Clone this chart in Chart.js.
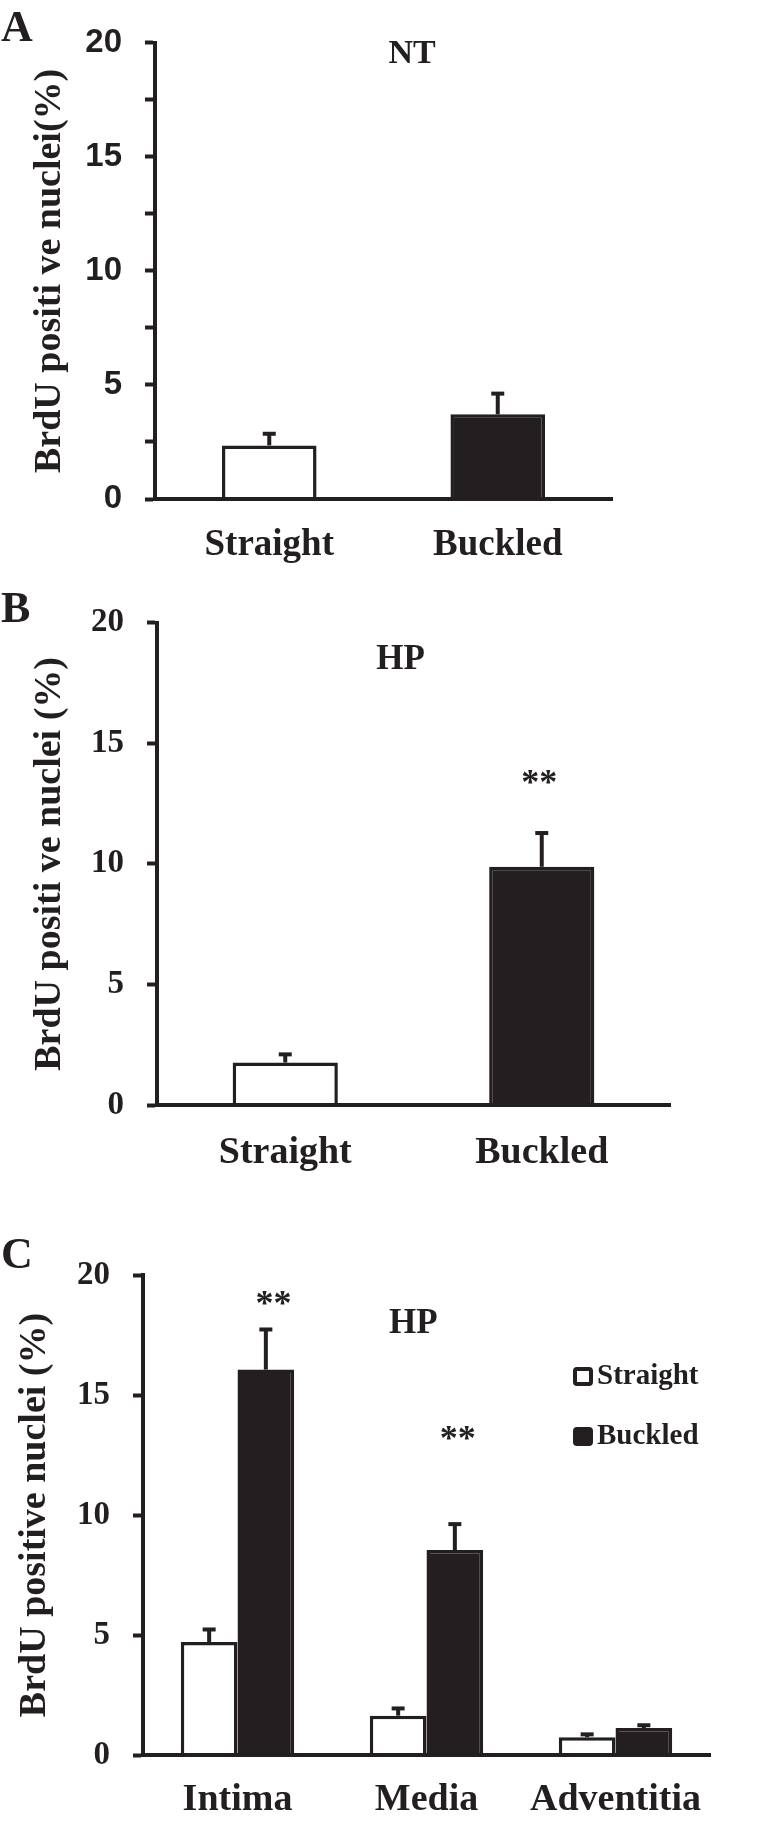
<!DOCTYPE html>
<html>
<head>
<meta charset="utf-8">
<title>BrdU positive nuclei</title>
<script src="https://cdn.jsdelivr.net/npm/chart.js@4.4.0/dist/chart.umd.min.js"></script>
<style>
  body { margin: 0; background: #fff; }
  canvas { display: block; }
</style>
</head>
<body>
<canvas id="chartA" width="782" height="580"></canvas>
<canvas id="chartB" width="782" height="600"></canvas>
<canvas id="chartC" width="782" height="645"></canvas>
<script>
//Datos
const categoriasAB = ['Straight', 'Buckled'];
const valoresA = [2.35, 3.71];
const erroresA = [0.51, 0.91];
const valoresB = [1.76, 9.88];
const erroresB = [0.34, 1.40];

const categoriasC = ['Intima', 'Media', 'Adventitia'];
const straightC = [4.71, 1.64, 0.74];
const straightErrC = [0.52, 0.30, 0.12];
const buckledC = [16.06, 8.54, 1.12];
const buckledErrC = [1.67, 1.08, 0.12];

const ticksY = [0, 5, 10, 15, 20];

//Colores y fuentes
const negro = '#231f20';
const serif = '"Liberation Serif", "Times New Roman", serif';
const sans = '"Liberation Sans", Arial, sans-serif';

//Barras de error (solo hacia arriba)
const barrasError = {
  id: 'barrasError',
  afterDatasetsDraw(chart) {
    const ctx = chart.ctx;
    const y = chart.scales.y;
    chart.data.datasets.forEach((ds, i) => {
      chart.getDatasetMeta(i).data.forEach((bar, j) => {
        const yTop = y.getPixelForValue(ds.data[j] + ds.errores[j]);
        ctx.save();
        ctx.strokeStyle = negro;
        ctx.lineWidth = 4;
        ctx.beginPath();
        ctx.moveTo(bar.x, bar.y);
        ctx.lineTo(bar.x, yTop);
        ctx.stroke();
        ctx.beginPath();
        ctx.moveTo(bar.x - 6.5, yTop);
        ctx.lineTo(bar.x + 6.5, yTop);
        ctx.stroke();
        ctx.restore();
      });
    });
  }
};

//Textos sueltos: letra del panel, NT/HP y asteriscos
const textos = {
  id: 'textos',
  afterDraw(chart, args, opts) {
    const ctx = chart.ctx;
    ctx.save();
    ctx.fillStyle = negro;
    (opts.items || []).forEach(t => {
      ctx.font = 'bold ' + t.size + 'px ' + serif;
      if (t.px !== undefined) {
        ctx.textAlign = 'left';
        ctx.textBaseline = 'alphabetic';
        ctx.fillText(t.text, t.px, t.py);
      } else {
        ctx.textAlign = 'center';
        ctx.textBaseline = 'middle';
        const x = chart.scales.x.getPixelForValue(t.x);
        const y = chart.scales.y.getPixelForValue(t.y) + (t.dy || 0);
        ctx.fillText(t.text, x, y);
      }
    });
    ctx.restore();
  }
};

//Leyenda dentro del area del grafico (panel C)
const leyenda = {
  id: 'leyenda',
  afterDraw(chart, args, opts) {
    const ctx = chart.ctx;
    ctx.save();
    chart.data.datasets.forEach((ds, i) => {
      const yc = opts.y + i * opts.dy;
      ctx.fillStyle = ds.backgroundColor;
      ctx.strokeStyle = negro;
      ctx.lineWidth = 4;
      ctx.beginPath();
      ctx.roundRect(opts.x + 2, yc - 7, 16, 15, 2);
      ctx.fill();
      ctx.stroke();
      ctx.fillStyle = negro;
      ctx.font = 'bold 29px ' + serif;
      ctx.textAlign = 'left';
      ctx.textBaseline = 'middle';
      ctx.fillText(ds.label, opts.x + 24, yc + 1);
    });
    ctx.restore();
  }
};

//Opciones comunes a los tres paneles
function opciones(cfg) {
  return {
    responsive: false,
    animation: false,
    devicePixelRatio: 1,
    layout: { padding: cfg.padding },
    plugins: {
      legend: { display: false },
      tooltip: { enabled: false },
      textos: { items: cfg.textos },
      leyenda: cfg.leyenda || {}
    },
    scales: {
      x: {
        grid: { drawOnChartArea: false, drawTicks: false },
        border: { display: true, color: negro, width: 4, z: 1 },
        ticks: {
          color: negro,
          font: { family: serif, weight: 'bold', size: cfg.xFont },
          padding: cfg.xPad,
          maxRotation: 0,
          autoSkip: false
        },
        afterFit: s => { s.height = cfg.xAlto; }
      },
      y: {
        min: 0,
        max: 20,
        ticks: {
          stepSize: cfg.paso,
          color: negro,
          font: { family: cfg.yFamilia, weight: 'bold', size: 33 },
          padding: 23,
          callback: v => ticksY.includes(v) ? v : ''
        },
        grid: { drawOnChartArea: false, drawTicks: true, tickLength: 10, tickWidth: 4, tickColor: negro },
        border: { display: true, color: negro, width: 4, z: 1 },
        title: {
          display: true,
          text: cfg.tituloY,
          color: negro,
          font: { family: serif, weight: 'bold', size: 38 },
          padding: { top: cfg.tituloPad, bottom: 0 }
        },
        afterFit: s => { s.width = cfg.yAncho; }
      }
    }
  };
}

//Panel A
new Chart(document.getElementById('chartA'), {
  type: 'bar',
  data: {
    labels: categoriasAB,
    datasets: [{
      data: valoresA,
      errores: erroresA,
      backgroundColor: ['#ffffff', negro],
      borderColor: negro,
      borderWidth: 3.5,
      categoryPercentage: 0.414,
      barPercentage: 1
    }]
  },
  options: opciones({
    padding: { left: 0, top: 35, right: 170, bottom: 11 },
    xAlto: 70, xFont: 37, xPad: 24,
    yAncho: 155, paso: 2.5, yFamilia: sans,
    tituloY: 'BrdU positi ve nuclei(%)', tituloPad: 27,
    textos: [
      { text: 'A', px: 1, py: 41, size: 44 },
      { text: 'NT', x: 0.625, y: 19.5, size: 34 }
    ]
  }),
  plugins: [barrasError, textos]
});

//Panel B
new Chart(document.getElementById('chartB'), {
  type: 'bar',
  data: {
    labels: categoriasAB,
    datasets: [{
      data: valoresB,
      errores: erroresB,
      backgroundColor: ['#ffffff', negro],
      borderColor: negro,
      borderWidth: 3.5,
      categoryPercentage: 0.41,
      barPercentage: 1
    }]
  },
  options: opciones({
    padding: { left: 0, top: 42, right: 112, bottom: 5 },
    xAlto: 70, xFont: 38, xPad: 25,
    yAncho: 157, paso: 5, yFamilia: serif,
    tituloY: 'BrdU positi ve nuclei (%)', tituloPad: 27,
    textos: [
      { text: 'B', px: 1, py: 42, size: 44 },
      { text: 'HP', x: 0.45, y: 18.45, size: 35 },
      { text: '**', x: 0.99, y: 13.52, size: 36, dy: 6 }
    ]
  }),
  plugins: [barrasError, textos]
});

//Panel C
new Chart(document.getElementById('chartC'), {
  type: 'bar',
  data: {
    labels: categoriasC,
    datasets: [{
      label: 'Straight',
      data: straightC,
      errores: straightErrC,
      backgroundColor: '#ffffff',
      borderColor: negro,
      borderWidth: 3.5,
      categoryPercentage: 0.6,
      barPercentage: 1
    }, {
      label: 'Buckled',
      data: buckledC,
      errores: buckledErrC,
      backgroundColor: negro,
      borderColor: negro,
      borderWidth: 3.5,
      categoryPercentage: 0.6,
      barPercentage: 1
    }]
  },
  options: opciones({
    padding: { left: 0, top: 95, right: 72, bottom: 5 },
    xAlto: 65, xFont: 38, xPad: 22,
    yAncho: 143, paso: 5, yFamilia: serif,
    tituloY: 'BrdU positive nuclei (%)', tituloPad: 12,
    textos: [
      { text: 'C', px: 1, py: 88, size: 44 },
      { text: 'HP', x: 0.93, y: 17.96, size: 35 },
      { text: '**', x: 0.19, y: 18.98, size: 36, dy: 6 },
      { text: '**', x: 1.166, y: 13.34, size: 36, dy: 6 }
    ],
    leyenda: { x: 573, y: 196, dy: 60 }
  }),
  plugins: [barrasError, textos, leyenda]
});
</script>
</body>
</html>
